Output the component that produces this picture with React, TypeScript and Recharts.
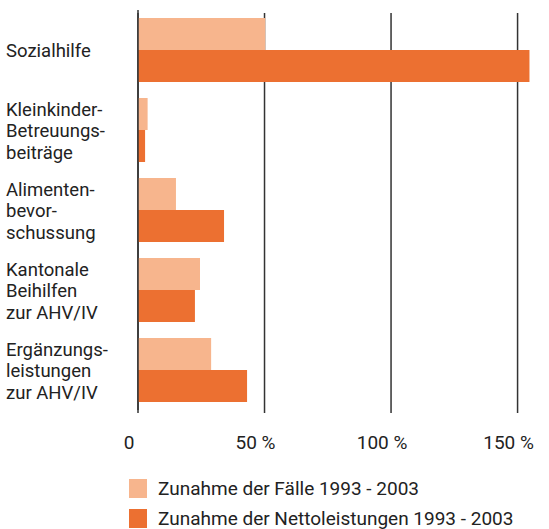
import React from 'react';
import { BarChart, Bar, XAxis, YAxis, CartesianGrid, ReferenceLine } from 'recharts';

const categories = [
  'Sozialhilfe',
  'Kleinkinder-\nBetreuungs-\nbeiträge',
  'Alimenten-\nbevor-\nschussung',
  'Kantonale\nBeihilfen\nzur AHV/IV',
  'Ergänzungs-\nleistungen\nzur AHV/IV',
];
const faelle = [50.3, 3.8, 15, 24.5, 28.9];
const nettoleistungen = [154.7, 2.8, 34, 22.5, 43.1];
const xTicks = [0, 50, 100, 150];

const seriesNames = ['Zunahme der Fälle 1993 - 2003', 'Zunahme der Nettoleistungen 1993 - 2003'];
const COLORS = ['#F7B58D', '#EC7031'];
const FONT = 'Roboto, "Noto Sans", sans-serif';
const TEXT = '#222';

const data = categories.map((name, i) => ({
  name,
  faelle: faelle[i],
  netto: nettoleistungen[i],
}));

const CategoryTick = (props: any) => {
  const { y, payload } = props;
  const lines = String(payload.value).split('\n');
  const mid = (lines.length - 1) / 2;
  return (
    <text fontFamily={FONT} fontSize={18.5} fill={TEXT} textAnchor="start">
      {lines.map((line, i) => (
        <tspan key={i} x={6} y={y + 7 + (i - mid) * 21.5}>
          {line}
        </tspan>
      ))}
    </text>
  );
};

const PercentTick = (props: any) => {
  const { x, y, payload } = props;
  const v = payload.value;
  return (
    <text x={x - 9} y={y + 39} fontFamily={FONT} fontSize={19} fill={TEXT} textAnchor="middle">
      {v === 0 ? '0' : `${v} %`}
    </text>
  );
};

const App: React.FC = () => {
  return (
    <div
      style={{
        position: 'absolute',
        left: 0,
        top: 0,
        width: 549,
        height: 529,
        overflow: 'hidden',
        background: '#fff',
      }}
    >
      {/* chart is a bit wider than the page so the grid's right edge line falls outside */}
      <BarChart
        width={553}
        height={529}
        data={data}
        layout="vertical"
        margin={{ top: 10, right: 0, left: 0, bottom: 89 }}
        barCategoryGap={16}
        barGap={0}
      >
        <CartesianGrid horizontal={false} stroke="#333" strokeWidth={1.5} y={13} height={400} />
        <XAxis
          type="number"
          domain={[0, 164]}
          ticks={xTicks}
          axisLine={false}
          tickLine={false}
          tickSize={0}
          tickMargin={0}
          height={30}
          tick={<PercentTick />}
          interval={0}
        />
        <YAxis
          type="category"
          dataKey="name"
          width={138}
          axisLine={false}
          tickLine={false}
          tick={<CategoryTick />}
          interval={0}
        />
        <Bar dataKey="faelle" name={seriesNames[0]} fill={COLORS[0]} barSize={32} isAnimationActive={false} />
        <Bar dataKey="netto" name={seriesNames[1]} fill={COLORS[1]} barSize={32} isAnimationActive={false} />
        <ReferenceLine x={0} stroke="#333" strokeWidth={1.5} />
      </BarChart>
      <div style={{ position: 'absolute', left: 129, top: 473, fontFamily: FONT, fontSize: 19, color: TEXT }}>
        {seriesNames.map((n, i) => (
          <div key={n} style={{ display: 'flex', alignItems: 'center', height: 30, whiteSpace: 'nowrap' }}>
            <span style={{ display: 'inline-block', width: 18, height: 19, background: COLORS[i], marginRight: 11 }} />
            <span>{n}</span>
          </div>
        ))}
      </div>
    </div>
  );
};

export default App;
